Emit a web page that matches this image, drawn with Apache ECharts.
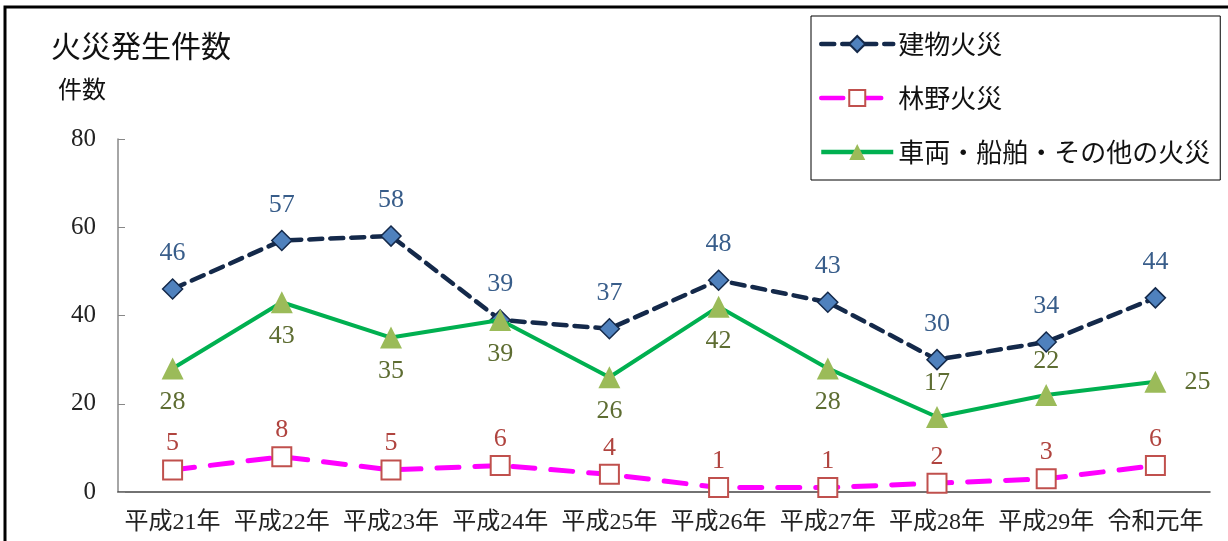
<!DOCTYPE html>
<html>
<head>
<meta charset="utf-8">
<script src="https://cdn.jsdelivr.net/npm/echarts@6/dist/echarts.min.js"></script>
<style>
  html, body { margin: 0; padding: 0; background: #fff; }
  #chart { width: 1228px; height: 541px; }
</style>
</head>
<body>
<div id="chart"></div>
<script>
// data
var years = ['平成21年', '平成22年', '平成23年', '平成24年', '平成25年', '平成26年', '平成27年', '平成28年', '平成29年', '令和元年']
var buildingFires = [46, 57, 58, 39, 37, 48, 43, 30, 34, 44]
var forestFires = [5, 8, 5, 6, 4, 1, 1, 2, 3, 6]
var vehicleFires = [28, 43, 35, 39, 26, 42, 28, 17, 22, 25]
var seriesNames = ['建物火災', '林野火災', '車両・船舶・その他の火災']

// where the green labels sit (below unless noted)
var vehicleLabelPos = ['bottom', 'bottom', 'bottom', 'bottom', 'bottom', 'bottom', 'bottom', 'top', 'top', 'right']

var serif = "'Liberation Serif', 'Noto Sans CJK JP'"
var jp = "'Noto Sans CJK JP', sans-serif"

var chart = echarts.init(document.getElementById('chart'))

chart.setOption({
  backgroundColor: '#fff',
  animation: false,
  graphic: [{
    type: 'rect',
    shape: { x: 5, y: 7, width: 1400, height: 700 },
    style: { fill: 'none', stroke: '#000', lineWidth: 3 },
    z: 100
  }],
  title: [{
    text: '火災発生件数',
    left: 46,
    top: 26,
    textStyle: { fontFamily: jp, fontSize: 30, fontWeight: 'normal', color: '#111' }
  }, {
    text: '件数',
    left: 53,
    top: 72,
    textStyle: { fontFamily: jp, fontSize: 24, fontWeight: 'normal', color: '#111' }
  }],
  legend: {
    orient: 'vertical',
    left: 811,
    top: 16,
    padding: [15, 10, 15, 8],
    itemWidth: 72,
    itemHeight: 20,
    itemGap: 28,
    borderColor: '#000',
    borderWidth: 1,
    backgroundColor: '#fff',
    lineStyle: { width: 4.5 },
    textStyle: { fontFamily: jp, fontSize: 26, color: '#111' },
    data: seriesNames
  },
  grid: {
    left: 118,
    right: 18,
    top: 139,
    bottom: 49
  },
  xAxis: {
    type: 'category',
    data: years,
    axisLine: { lineStyle: { color: '#444', width: 1.5 } },
    axisTick: { inside: true, length: 7, lineStyle: { color: '#444' } },
    axisLabel: { interval: 0, fontFamily: serif, fontSize: 24, color: '#222', margin: 19 }
  },
  yAxis: {
    type: 'value',
    min: 0,
    max: 80,
    interval: 20,
    splitLine: { show: false },
    axisLine: { show: true, lineStyle: { color: '#888', width: 1.5 } },
    axisTick: { show: true, inside: true, length: 7, lineStyle: { color: '#888' } },
    axisLabel: { fontFamily: serif, fontSize: 25, color: '#222', margin: 22 }
  },
  series: [
    {
      name: seriesNames[0],
      type: 'line',
      data: buildingFires,
      symbol: 'diamond',
      symbolSize: 20,
      lineStyle: { color: '#14294a', width: 4.5, type: [13, 8], cap: 'round' },
      itemStyle: { color: '#4f81bd', borderColor: '#14294a', borderWidth: 1.5 },
      label: {
        show: true,
        position: 'top',
        distance: 12,
        fontFamily: serif,
        fontSize: 26,
        color: '#385d8a'
      },
      z: 3
    },
    {
      name: seriesNames[1],
      type: 'line',
      data: forestFires,
      symbol: 'rect',
      symbolSize: 19,
      lineStyle: { color: '#ff00ff', width: 5, type: [22, 16], cap: 'round' },
      itemStyle: { color: '#fff', borderColor: '#c0504d', borderWidth: 2 },
      label: {
        show: true,
        position: 'top',
        distance: 3,
        fontFamily: serif,
        fontSize: 26,
        color: '#b0443f'
      },
      z: 2
    },
    {
      name: seriesNames[2],
      type: 'line',
      data: vehicleFires.map(function (v, i) {
        return {
          value: v,
          label: { position: vehicleLabelPos[i], distance: vehicleLabelPos[i] === 'right' ? 18 : 10 }
        }
      }),
      symbol: 'triangle',
      symbolSize: 22,
      lineStyle: { color: '#00b050', width: 4 },
      itemStyle: { color: '#9bbb59', borderWidth: 0 },
      label: {
        show: true,
        fontFamily: serif,
        fontSize: 26,
        color: '#5e6d32'
      },
      z: 4
    }
  ]
})
</script>
</body>
</html>
